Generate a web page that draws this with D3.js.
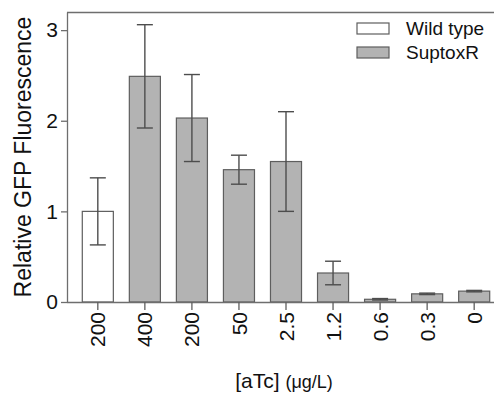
<!DOCTYPE html>
<html>
<head>
<meta charset="utf-8">
<script src="https://cdn.jsdelivr.net/npm/d3@7"></script>
<style>
  body { margin: 0; background: #fff; }
  svg { display: block; }
  text { font-family: "Liberation Sans", Arial, Helvetica, sans-serif; fill: #111; }
</style>
</head>
<body>
<svg id="chart" width="494" height="396"></svg>
<script>
// aTc concentration (µg/L) for each bar
const doseLabels = ["200", "400", "200", "50", "2.5", "1.2", "0.6", "0.3", "0"];
// strain shown by each bar
const strains = ["Wild type", "SuptoxR", "SuptoxR", "SuptoxR", "SuptoxR", "SuptoxR", "SuptoxR", "SuptoxR", "SuptoxR"];
// relative GFP fluorescence (mean) and error (±)
const fluorescence = [1.00, 2.49, 2.03, 1.46, 1.55, 0.32, 0.03, 0.09, 0.12];
const errors = [0.37, 0.57, 0.48, 0.16, 0.55, 0.13, 0.008, 0.008, 0.008];
const yTicks = [0, 1, 2, 3];
const legendLabels = ["Wild type", "SuptoxR"];
const strainFill = { "Wild type": "#ffffff", "SuptoxR": "#b3b3b3" };

const svg = d3.select("#chart");
const W = 494;
const plotLeft = 67, plotTop = 12, plotBase = 302;

const x = d3.scaleBand()
  .domain(d3.range(doseLabels.length))
  .range([plotLeft, 505])
  .paddingInner(0.34)
  .paddingOuter(0.325);

const y = d3.scaleLinear().domain([0, 3.2]).range([plotBase, plotTop]);

// frame: top border
svg.append("line").attr("x1", plotLeft).attr("x2", W).attr("y1", plotTop + 0.5).attr("y2", plotTop + 0.5)
  .attr("stroke", "#6e6e6e").attr("stroke-width", 1.3);

// bars
svg.append("g").selectAll("rect")
  .data(fluorescence)
  .join("rect")
  .attr("x", (d, i) => x(i))
  .attr("y", d => y(d))
  .attr("width", x.bandwidth())
  .attr("height", d => y(0) - y(d))
  .attr("fill", (d, i) => strainFill[strains[i]])
  .attr("stroke", "#5e5e5e")
  .attr("stroke-width", 1.2);

// error bars
const cap = 8;
const eb = svg.append("g").attr("stroke", "#4d4d4d").attr("stroke-width", 1.4).attr("fill", "none");
fluorescence.forEach((v, i) => {
  const cx = x(i) + x.bandwidth() / 2;
  const hi = y(v + errors[i]), lo = y(Math.max(0, v - errors[i]));
  eb.append("line").attr("x1", cx).attr("x2", cx).attr("y1", hi).attr("y2", lo);
  eb.append("line").attr("x1", cx - cap).attr("x2", cx + cap).attr("y1", hi).attr("y2", hi);
  eb.append("line").attr("x1", cx - cap).attr("x2", cx + cap).attr("y1", lo).attr("y2", lo);
});

// y axis
const yAxis = svg.append("g")
  .attr("transform", `translate(${plotLeft},0)`)
  .call(d3.axisLeft(y).tickValues(yTicks).tickFormat(d3.format("d")).tickSize(6).tickSizeOuter(0).tickPadding(3));
yAxis.select(".domain").attr("stroke", "#6e6e6e").attr("stroke-width", 1.3);
yAxis.selectAll(".tick line").attr("stroke", "#6e6e6e").attr("stroke-width", 1.3);
yAxis.selectAll(".tick text").attr("font-size", 21).attr("fill", "#111");

// x axis
const xAxis = svg.append("g")
  .attr("transform", `translate(0,${plotBase})`)
  .call(d3.axisBottom(x).tickFormat(i => doseLabels[i]).tickSize(8).tickSizeOuter(0));
xAxis.select(".domain").attr("d", `M${plotLeft},0.5H${W}`).attr("stroke", "#6e6e6e").attr("stroke-width", 1.3);
xAxis.selectAll(".tick line").attr("stroke", "#5e5e5e").attr("stroke-width", 1.3);
xAxis.selectAll(".tick text")
  .attr("font-size", 21)
  .attr("fill", "#111")
  .attr("transform", "rotate(-90)")
  .attr("text-anchor", "end")
  .attr("x", -10)
  .attr("y", 0)
  .attr("dy", "0.36em");

// axis titles
svg.append("text")
  .attr("transform", `translate(31,${(plotTop + plotBase) / 2}) rotate(-90)`)
  .attr("text-anchor", "middle")
  .attr("font-size", 23)
  .text("Relative GFP Fluorescence");

const xt = svg.append("text")
  .attr("x", 284).attr("y", 388)
  .attr("text-anchor", "middle");
xt.append("tspan").attr("font-size", 21).text("[aTc] ");
xt.append("tspan").attr("font-size", 18).text("(μg/L)");

// legend
const lg = svg.append("g");
legendLabels.forEach((name, i) => {
  const ly = 23 + i * 24;
  lg.append("rect").attr("x", 357).attr("y", ly).attr("width", 32).attr("height", 11)
    .attr("fill", strainFill[name]).attr("stroke", "#5e5e5e").attr("stroke-width", 1.2);
  lg.append("text").attr("x", 406).attr("y", ly + 11.5).attr("font-size", 19).text(name);
});
</script>
</body>
</html>
